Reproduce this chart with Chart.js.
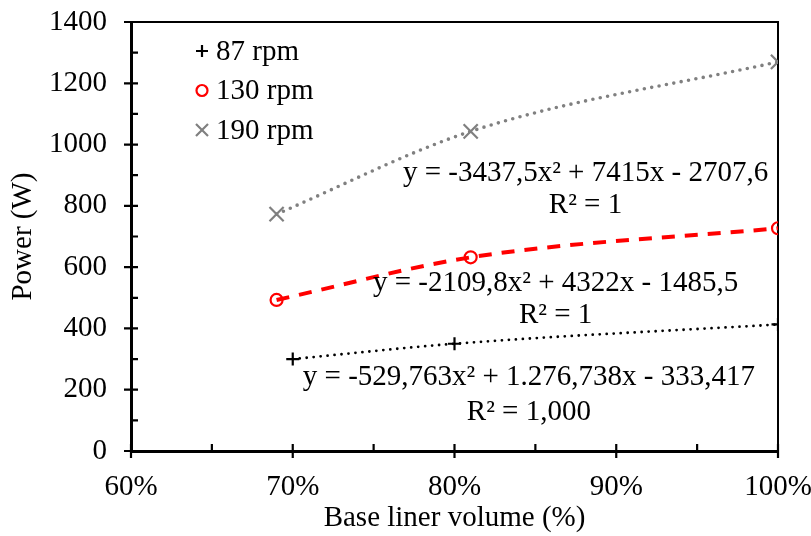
<!DOCTYPE html>
<html>
<head>
<meta charset="utf-8">
<script src="https://cdn.jsdelivr.net/npm/chart.js@4/dist/chart.umd.min.js"></script>
<style>
  body { margin: 0; background: #fff; }
  canvas { display: block; }
</style>
</head>
<body>
<canvas id="chart" width="811" height="536"></canvas>
<script>
const seriesNames = ["87 rpm", "130 rpm", "190 rpm"]

const volume87 = [0.70, 0.80, 1.00]
const power87 = [300, 350, 413]

const volume130 = [0.69, 0.81, 1.00]
const power130 = [493, 632, 727]

const volume190 = [0.69, 0.81, 1.00]
const power190 = [773, 1043, 1270]

const trendEquations = [
  "y = -529,763x² + 1.276,738x - 333,417",
  "y = -2109,8x² + 4322x - 1485,5",
  "y = -3437,5x² + 7415x - 2707,6"
]
const trendRSquared = ["R² = 1,000", "R² = 1", "R² = 1"]

// where the trendline labels sit, in axis units
const labelAnchors = [
  { x: 0.846, y: 241, gap: 35 },
  { x: 0.8625, y: 547, gap: 32 },
  { x: 0.881, y: 905, gap: 32 }
]

const FONT = '"Liberation Serif", "Times New Roman", serif'
Chart.defaults.font.family = FONT
Chart.defaults.font.size = 29
Chart.defaults.color = "#000"

const toPoints = (xs, ys) => xs.map((x, i) => ({ x: x, y: ys[i] }))

const styles = [
  { color: "#000000", pointStyle: "cross", radius: 6.5, dash: [0, 7], width: 2.8, pointWidth: 2.2 },
  { color: "#ff0000", pointStyle: "circle", radius: 6, dash: [13, 10], width: 4, pointWidth: 2.2 },
  { color: "#808080", pointStyle: "crossRot", radius: 10, dash: [0, 7.5], width: 3.6, pointWidth: 2.2 }
]

const datasets = [
  toPoints(volume87, power87),
  toPoints(volume130, power130),
  toPoints(volume190, power190)
].map((data, i) => ({
  label: seriesNames[i],
  data: data,
  showLine: true,
  cubicInterpolationMode: "monotone",
  borderColor: styles[i].color,
  borderWidth: styles[i].width,
  borderDash: styles[i].dash,
  borderCapStyle: i === 1 ? "butt" : "round",
  pointStyle: styles[i].pointStyle,
  pointRadius: styles[i].radius,
  pointBorderColor: styles[i].color,
  pointBackgroundColor: "rgba(0,0,0,0)",
  pointBorderWidth: styles[i].pointWidth
}))

const frame = {
  id: "frame",
  beforeDatasetsDraw(chart) {
    const { ctx, chartArea: a, scales: { x, y } } = chart
    ctx.save()
    ctx.strokeStyle = "#000"
    ctx.lineWidth = 2
    ctx.beginPath()
    ctx.moveTo(a.left, a.top)
    ctx.lineTo(a.right, a.top)
    ctx.lineTo(a.right, a.bottom)
    ctx.stroke()

    ctx.lineWidth = 2.2
    ctx.beginPath()
    y.ticks.forEach((t, i) => {
      const py = y.getPixelForValue(t.value)
      ctx.moveTo(a.left - 7, py); ctx.lineTo(a.left + 7, py)
      if (i > 0) {
        const my = y.getPixelForValue((t.value + y.ticks[i - 1].value) / 2)
        ctx.moveTo(a.left, my); ctx.lineTo(a.left + 7, my)
      }
    })
    x.ticks.forEach((t, i) => {
      const px = x.getPixelForValue(t.value)
      ctx.moveTo(px, a.bottom - 7); ctx.lineTo(px, a.bottom + 7)
      if (i > 0) {
        const mx = x.getPixelForValue((t.value + x.ticks[i - 1].value) / 2)
        ctx.moveTo(mx, a.bottom - 7); ctx.lineTo(mx, a.bottom)
      }
    })
    ctx.stroke()
    ctx.restore()
  },
  afterDraw(chart) {
    const { ctx, scales: { x, y } } = chart
    ctx.save()
    ctx.fillStyle = "#000"
    ctx.font = "29px " + FONT
    ctx.textAlign = "center"
    ctx.textBaseline = "middle"
    labelAnchors.forEach((p, i) => {
      const px = x.getPixelForValue(p.x)
      const py = y.getPixelForValue(p.y)
      ctx.fillText(trendEquations[i], px, py)
      ctx.fillText(trendRSquared[i], px, py + p.gap)
    })

    // legend box in the top left of the plot
    const left = chart.chartArea.left + 71
    const top = chart.chartArea.top + 29
    ctx.textAlign = "left"
    chart.data.datasets.forEach((ds, i) => {
      const rowY = top + i * 39.5
      ctx.strokeStyle = ds.pointBorderColor
      ctx.fillStyle = "rgba(0,0,0,0)"
      ctx.lineWidth = ds.pointBorderWidth
      Chart.helpers.drawPoint(ctx, {
        pointStyle: ds.pointStyle,
        radius: ds.pointStyle === "crossRot" ? 8.5 : ds.pointRadius - 0.5,
        rotation: 0,
        borderWidth: ds.pointBorderWidth
      }, left, rowY)
      ctx.fillStyle = "#000"
      ctx.fillText(ds.label, left + 14, rowY + 1)
    })
    ctx.restore()
  }
}

new Chart(document.getElementById("chart"), {
  type: "scatter",
  data: { datasets: datasets },
  plugins: [frame],
  options: {
    responsive: false,
    animation: false,
    layout: { padding: { top: 22, right: 33, left: 0, bottom: 0 } },
    plugins: {
      legend: { display: false },
      tooltip: { enabled: false }
    },
    scales: {
      x: {
        type: "linear",
        min: 0.6,
        max: 1.0,
        afterFit: (scale) => {
          scale.height = 85
          scale.paddingLeft = 0
          scale.paddingRight = 0
        },
        grid: { display: false, drawTicks: false },
        border: { display: true, color: "#000", width: 3 },
        ticks: {
          stepSize: 0.1,
          padding: 19,
          callback: (v) => Math.round(v * 100) + "%"
        },
        title: {
          display: true,
          text: "Base liner volume (%)",
          padding: { top: 0, bottom: 0 }
        }
      },
      y: {
        type: "linear",
        min: 0,
        max: 1400,
        afterFit: (scale) => {
          scale.width = 131
          scale.paddingTop = 0
          scale.paddingBottom = 0
        },
        grid: { display: false, drawTicks: false },
        border: { display: true, color: "#000", width: 3 },
        ticks: {
          stepSize: 200,
          padding: 24,
          callback: (v) => String(v)
        },
        title: {
          display: true,
          text: "Power (W)",
          padding: { top: 6, bottom: 0 }
        }
      }
    }
  }
})
</script>
</body>
</html>
